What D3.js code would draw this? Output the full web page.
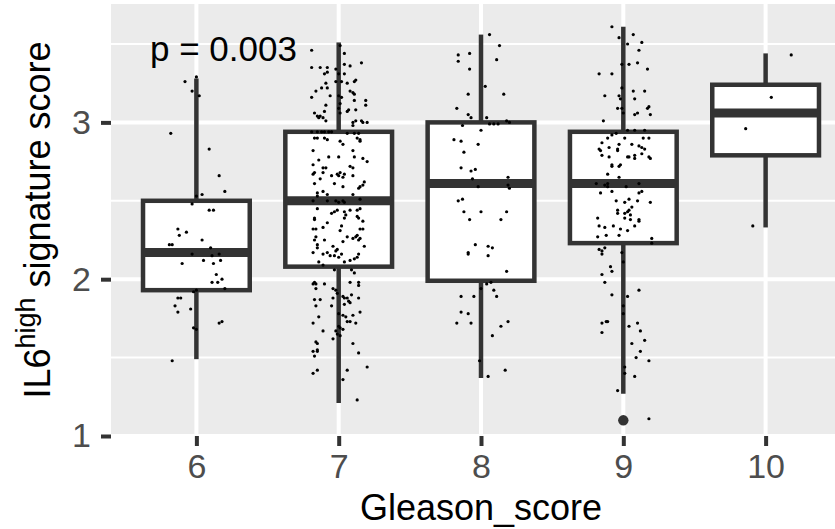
<!DOCTYPE html>
<html>
<head>
<meta charset="utf-8">
<script src="https://cdn.jsdelivr.net/npm/d3@7"></script>
<style>
  body { margin: 0; background: #fff; }
  text { font-family: "Liberation Sans", Arial, Helvetica, sans-serif; }
</style>
</head>
<body>
<script>
// categories and box statistics
var grades = ["6", "7", "8", "9", "10"];
var whiskerLow  = [1.49, 1.21, 1.37, 1.27, 2.33];
var q1          = [1.93, 2.08, 1.99, 2.23, 2.79];
var median      = [2.17, 2.50, 2.61, 2.61, 3.06];
var q3          = [2.50, 2.94, 3.00, 2.94, 3.24];
var whiskerHigh = [3.28, 3.51, 3.56, 3.61, 3.44];
var outliers    = [{grade: "9", value: 1.10}];
var yMajor = [1, 2, 3];
var yMinor = [1.5, 2.5, 3.5];
var pLabel = "p = 0.003";

// jittered samples: [jitter (category units), score]
var pts6 = [[0.00,3.29],[-0.08,3.26],[-0.03,3.20],[0.02,3.17],[-0.18,2.93],[0.09,2.83],[0.16,2.66],[0.20,2.56],[0.04,2.54],[0.00,2.53],[-0.03,2.48],[0.09,2.44],[0.12,2.44],[-0.13,2.32],[-0.07,2.30],[-0.12,2.28],[0.04,2.25],[-0.19,2.22],[-0.17,2.22],[0.10,2.20],[-0.03,2.16],[0.11,2.15],[0.16,2.16],[0.05,2.12],[0.17,2.12],[0.12,2.10],[-0.10,2.10],[0.14,2.03],[0.18,2.00],[0.11,1.98],[0.15,1.98],[0.20,1.94],[-0.02,1.92],[0.00,1.93],[-0.13,1.88],[-0.11,1.88],[-0.15,1.83],[-0.04,1.81],[-0.13,1.79],[-0.02,1.69],[0.00,1.68],[0.16,1.72],[0.18,1.73],[-0.17,1.48]];
var pts7 = [[0.01,3.49],[-0.19,3.46],[0.04,3.44],[-0.19,3.35],[-0.13,3.35],[-0.08,3.35],[-0.02,3.34],[0.04,3.37],[0.08,3.36],[0.16,3.38],[-0.08,3.32],[-0.10,3.31],[0.00,3.31],[0.04,3.31],[0.12,3.27],[0.11,3.26],[-0.02,3.26],[0.02,3.26],[0.06,3.25],[-0.09,3.25],[-0.12,3.22],[-0.16,3.20],[-0.08,3.22],[0.08,3.20],[0.10,3.19],[0.11,3.18],[-0.06,3.17],[0.00,3.17],[0.02,3.16],[-0.19,3.16],[0.11,3.14],[0.19,3.14],[0.19,3.11],[0.01,3.12],[-0.09,3.11],[0.00,3.09],[-0.10,3.07],[-0.17,3.06],[-0.15,3.04],[-0.13,3.04],[-0.11,3.03],[0.06,3.07],[0.07,3.08],[0.12,3.08],[-0.14,3.03],[-0.09,3.01],[0.01,3.06],[0.10,3.00],[0.12,3.01],[0.16,3.01],[0.20,3.00],[0.17,3.00],[0.10,2.98],
  [-0.19,2.94],[-0.15,2.94],[-0.12,2.94],[-0.10,2.94],[-0.07,2.94],[-0.05,2.94],[0.06,2.93],[0.11,2.93],[0.14,2.93],[-0.17,2.90],[-0.15,2.90],[-0.10,2.90],[-0.08,2.89],[0.13,2.90],[0.15,2.89],[0.01,2.88],[0.03,2.86],[0.15,2.88],[-0.18,2.82],[0.10,2.82],[-0.07,2.78],[0.00,2.78],[-0.14,2.76],[0.11,2.78],[0.17,2.77],[0.20,2.75],[-0.18,2.73],[-0.11,2.71],[-0.09,2.71],[0.08,2.72],[0.10,2.71],[-0.18,2.67],[-0.17,2.68],[-0.11,2.68],[-0.05,2.66],[-0.01,2.67],[0.00,2.66],[0.01,2.68],[0.03,2.65],[0.04,2.67],[0.10,2.66],[-0.13,2.64],[-0.17,2.61],[-0.03,2.61],[0.03,2.59],[0.18,2.62],[0.17,2.60],[0.15,2.59],[0.14,2.58],[0.10,2.54],[-0.15,2.55],[-0.11,2.56],[-0.08,2.54],[-0.15,2.53],
  [-0.18,2.50],[-0.08,2.50],[-0.02,2.50],[0.00,2.49],[0.03,2.50],[0.04,2.49],[0.15,2.51],[-0.15,2.45],[-0.01,2.44],[0.13,2.44],[0.15,2.45],[-0.03,2.43],[-0.05,2.42],[0.04,2.43],[0.08,2.44],[0.05,2.41],[0.13,2.40],[-0.17,2.39],[-0.17,2.38],[0.04,2.39],[0.14,2.39],[0.17,2.37],[-0.08,2.36],[-0.11,2.33],[-0.18,2.32],[-0.16,2.32],[0.02,2.34],[0.01,2.31],[0.15,2.32],[0.17,2.32],[-0.16,2.27],[-0.17,2.25],[-0.10,2.25],[0.06,2.27],[0.10,2.26],[0.12,2.27],[0.14,2.25],[0.15,2.26],[0.13,2.28],[0.03,2.24],[-0.15,2.22],[-0.15,2.20],[0.18,2.21],[-0.04,2.21],[-0.01,2.19],[-0.02,2.18],[-0.18,2.17],[-0.11,2.16],[-0.08,2.17],[0.00,2.14],[0.02,2.16],[-0.06,2.15],[-0.03,2.15],[0.14,2.16],[0.13,2.14],[0.11,2.13],[-0.14,2.11],[0.08,2.12],[0.04,2.11],[-0.11,2.09],
  [-0.03,2.06],[0.09,2.06],[0.11,2.04],[-0.17,1.98],[-0.18,1.97],[-0.16,1.97],[-0.10,1.97],[-0.16,1.94],[-0.04,1.94],[-0.02,1.93],[0.08,1.98],[0.14,1.98],[0.14,1.96],[-0.01,1.91],[-0.04,1.88],[0.03,1.89],[0.06,1.88],[-0.13,1.87],[-0.17,1.87],[0.04,1.88],[0.09,1.90],[0.14,1.88],[0.07,1.86],[0.04,1.84],[0.08,1.85],[-0.05,1.83],[-0.16,1.83],[0.15,1.79],[0.00,1.78],[0.03,1.77],[0.05,1.76],[0.10,1.77],[0.08,1.73],[-0.14,1.76],[0.06,1.73],[0.12,1.72],[-0.18,1.72],[0.00,1.70],[0.01,1.69],[0.03,1.68],[-0.11,1.67],[-0.02,1.67],[0.01,1.64],[-0.01,1.65],[-0.04,1.62],[-0.16,1.60],[-0.15,1.59],[0.10,1.59],[-0.18,1.54],[-0.15,1.54],[-0.17,1.51],[-0.15,1.55],[0.14,1.53],[0.20,1.44],[-0.15,1.42],[-0.18,1.40],[0.06,1.42],[0.03,1.36],[0.13,1.23]];
var pts8 = [[0.06,3.56],[0.13,3.49],[-0.16,3.43],[-0.08,3.44],[-0.16,3.39],[0.11,3.40],[-0.08,3.34],[0.03,3.23],[-0.09,3.18],[0.16,3.18],[-0.17,3.09],[-0.09,3.05],[-0.07,3.03],[0.04,3.03],[0.06,2.99],[0.09,2.99],[0.12,2.99],[0.18,3.01],[0.20,3.00],[-0.13,2.98],[0.00,2.95],[-0.19,2.89],[-0.14,2.88],[-0.02,2.86],[-0.12,2.81],[-0.14,2.71],[-0.07,2.69],[-0.04,2.70],[-0.06,2.64],[-0.02,2.59],[0.19,2.65],[0.19,2.60],[0.20,2.58],[-0.16,2.50],[-0.13,2.51],[-0.12,2.43],[-0.08,2.38],[0.00,2.43],[0.18,2.43],[0.14,2.38],[-0.04,2.22],[-0.09,2.16],[-0.09,2.17],[0.05,2.21],[0.08,2.20],[0.05,2.15],[0.18,2.05],[0.00,1.94],[0.04,1.97],[0.07,1.98],[0.09,1.93],[0.11,1.89],[-0.14,1.89],[-0.05,1.89],[-0.14,1.79],[-0.09,1.78],[-0.17,1.72],[-0.07,1.72],[0.19,1.73],[0.14,1.70],[0.08,1.64],[-0.01,1.48],[0.17,1.42],[0.05,1.38]];
var pts9 = [[-0.08,3.61],[-0.03,3.54],[0.07,3.56],[0.03,3.50],[0.13,3.51],[0.11,3.46],[-0.01,3.37],[0.04,3.37],[0.10,3.38],[0.17,3.34],[-0.17,3.31],[-0.08,3.31],[-0.01,3.22],[0.07,3.20],[0.15,3.20],[-0.13,3.17],[-0.03,3.17],[-0.02,3.15],[0.08,3.15],[-0.04,3.09],[-0.01,3.09],[0.17,3.09],[0.18,3.10],[0.00,3.06],[0.08,3.05],[0.10,3.06],[0.19,3.05],[-0.14,3.01],
  [0.03,2.95],[0.08,2.95],[0.15,2.95],[-0.05,2.93],[-0.08,2.92],[-0.11,2.90],[0.01,2.90],[0.14,2.90],[0.18,2.90],[-0.15,2.87],[-0.03,2.86],[0.06,2.86],[-0.10,2.84],[-0.17,2.83],[-0.16,2.82],[-0.04,2.83],[-0.04,2.82],[0.11,2.85],[0.13,2.84],[0.15,2.83],[-0.15,2.79],[-0.10,2.78],[0.03,2.78],[0.04,2.78],[0.08,2.79],[0.08,2.77],[0.13,2.80],[0.18,2.78],[0.19,2.77],[-0.08,2.73],[-0.08,2.72],[-0.02,2.73],[-0.03,2.72],[-0.11,2.67],[-0.03,2.65],[-0.19,2.61],[-0.13,2.60],[-0.11,2.61],[-0.11,2.59],[0.02,2.59],[0.11,2.61],[-0.16,2.55],[-0.08,2.56],[0.11,2.55],[0.13,2.56],[-0.05,2.50],[0.01,2.49],[0.04,2.51],[0.10,2.50],[0.19,2.49],[0.06,2.46],[0.04,2.44],[-0.04,2.44],[-0.04,2.42],[0.01,2.42],[0.03,2.43],[0.05,2.41],[0.01,2.39],[0.11,2.38],[-0.18,2.39],
  [-0.17,2.34],[-0.13,2.33],[-0.07,2.34],[-0.02,2.32],[0.03,2.31],[0.08,2.34],[0.11,2.37],[0.05,2.38],[-0.18,2.27],[-0.12,2.28],[-0.03,2.28],[0.20,2.26],[0.20,2.23],[-0.17,2.19],[-0.13,2.20],[-0.15,2.18],[-0.15,2.16],[-0.01,2.17],[0.00,2.11],[-0.09,2.08],[-0.08,2.05],[-0.15,2.03],[-0.13,1.98],[0.11,1.93],[-0.08,1.90],[0.03,1.89],[0.00,1.83],[0.00,1.78],[-0.15,1.72],[-0.12,1.73],[-0.11,1.73],[-0.15,1.66],[0.04,1.70],[0.10,1.72],[0.12,1.67],[0.15,1.61],[0.06,1.59],[0.09,1.50],[0.12,1.54],[0.18,1.48],[0.01,1.44],[0.01,1.40],[0.08,1.38],[-0.04,1.29],[0.18,1.11]];
var pts10 = [[0.18,3.43],[0.04,3.16],[-0.14,2.96],[-0.09,2.34]];

var samples = [pts6, pts7, pts8, pts9, pts10];

var width = 835, height = 529;
var panel = {left: 111, right: 851, top: 4, bottom: 436};

var svg = d3.select("body").append("svg")
    .attr("width", width)
    .attr("height", height);

var xScale = d3.scalePoint()
    .domain(grades)
    .range([panel.left, panel.right])
    .padding(0.6);
var step = xScale.step();
var yScale = d3.scaleLinear()
    .domain([1.0, 3.755])
    .range([panel.bottom, panel.top]);

// panel background + grid
svg.append("rect")
    .attr("x", panel.left).attr("y", panel.top)
    .attr("width", panel.right - panel.left)
    .attr("height", panel.bottom - panel.top)
    .attr("fill", "#EBEBEB");

svg.selectAll(".minor").data(yMinor).enter().append("line")
    .attr("x1", panel.left).attr("x2", panel.right)
    .attr("y1", d => yScale(d)).attr("y2", d => yScale(d))
    .attr("stroke", "#fff").attr("stroke-width", 2);

svg.selectAll(".majorY").data(yMajor).enter().append("line")
    .attr("x1", panel.left).attr("x2", panel.right)
    .attr("y1", d => yScale(d)).attr("y2", d => yScale(d))
    .attr("stroke", "#fff").attr("stroke-width", 4);

svg.selectAll(".majorX").data(grades).enter().append("line")
    .attr("x1", d => xScale(d)).attr("x2", d => xScale(d))
    .attr("y1", panel.top).attr("y2", panel.bottom)
    .attr("stroke", "#fff").attr("stroke-width", 4);

// boxes
var boxes = grades.map(function(g, i) {
    return {grade: g, lo: whiskerLow[i], q1: q1[i], med: median[i], q3: q3[i], hi: whiskerHigh[i]};
});
var boxW = step * 0.75;
var ink = "#333333";

var bg = svg.selectAll(".box").data(boxes).enter().append("g");
bg.append("line")
    .attr("x1", d => xScale(d.grade)).attr("x2", d => xScale(d.grade))
    .attr("y1", d => yScale(d.q3)).attr("y2", d => yScale(d.hi))
    .attr("stroke", ink).attr("stroke-width", 4.5);
bg.append("line")
    .attr("x1", d => xScale(d.grade)).attr("x2", d => xScale(d.grade))
    .attr("y1", d => yScale(d.q1)).attr("y2", d => yScale(d.lo))
    .attr("stroke", ink).attr("stroke-width", 4.5);
bg.append("rect")
    .attr("x", d => xScale(d.grade) - boxW / 2)
    .attr("width", boxW)
    .attr("y", d => yScale(d.q3))
    .attr("height", d => yScale(d.q1) - yScale(d.q3))
    .attr("fill", "#fff").attr("stroke", ink).attr("stroke-width", 4.5);
bg.append("line")
    .attr("x1", d => xScale(d.grade) - boxW / 2).attr("x2", d => xScale(d.grade) + boxW / 2)
    .attr("y1", d => yScale(d.med)).attr("y2", d => yScale(d.med))
    .attr("stroke", ink).attr("stroke-width", 9);

svg.selectAll(".outlier").data(outliers).enter().append("circle")
    .attr("cx", d => xScale(d.grade)).attr("cy", d => yScale(d.value))
    .attr("r", 5.2).attr("fill", ink);

// jittered points
grades.forEach(function(g, i) {
    svg.append("g").selectAll("circle").data(samples[i]).enter().append("circle")
        .attr("cx", d => xScale(g) + d[0] * step)
        .attr("cy", d => yScale(d[1]))
        .attr("r", 1.6)
        .attr("fill", "#000");
});

// p value
svg.append("text")
    .attr("x", 150).attr("y", 61)
    .attr("font-size", 35)
    .attr("fill", "#000")
    .text(pLabel);

// axes
var yAxis = svg.append("g")
    .attr("transform", "translate(" + panel.left + ",0)")
    .call(d3.axisLeft(yScale).tickValues(yMajor).tickSize(10).tickPadding(10).tickFormat(d3.format("d")));
var xAxis = svg.append("g")
    .attr("transform", "translate(0," + panel.bottom + ")")
    .call(d3.axisBottom(xScale).tickSize(10).tickPadding(8));

[yAxis, xAxis].forEach(function(a) {
    a.select(".domain").remove();
    a.selectAll(".tick line").attr("stroke", ink).attr("stroke-width", 4);
    a.selectAll(".tick text")
        .attr("fill", "#4D4D4D")
        .attr("font-size", 34)
        .attr("font-family", "Liberation Sans, Arial, sans-serif");
});

// axis titles
svg.append("text")
    .attr("x", (panel.left + panel.right) / 2)
    .attr("y", 520)
    .attr("text-anchor", "middle")
    .attr("font-size", 36)
    .attr("fill", "#000")
    .text("Gleason_score");

var yt = svg.append("text")
    .attr("transform", "translate(50," + (panel.top + panel.bottom) / 2 + ") rotate(-90)")
    .attr("text-anchor", "middle")
    .attr("font-size", 36)
    .attr("fill", "#000");
yt.append("tspan").text("IL6");
yt.append("tspan").attr("font-size", 27).attr("dy", -15).text("high");
yt.append("tspan").attr("dy", 15).text(" signature score");
</script>
</body>
</html>
